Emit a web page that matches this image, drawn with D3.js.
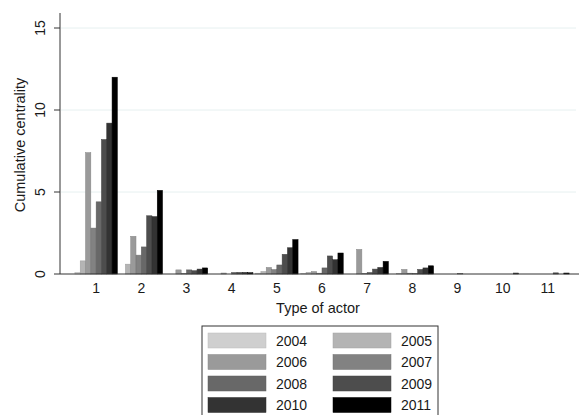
<!DOCTYPE html>
<html>
<head>
<meta charset="utf-8">
<script src="https://cdn.jsdelivr.net/npm/d3@7"></script>
<style>
  body { margin: 0; background: #fff; }
  text { font-family: "Liberation Sans", Arial, Helvetica, sans-serif; fill: #1a1a1a; }
</style>
</head>
<body>
<div id="chart"></div>
<script>
// actor types on the x axis
var categories = ["1","2","3","4","5","6","7","8","9","10","11"];
var years = ["2004","2005","2006","2007","2008","2009","2010","2011"];
var yTicks = [0, 5, 10, 15];

// cumulative centrality per actor type, one array per year
var v2004 = [0.1, 0,    0,    0,    0.05, 0.03, 0,    0,    0,    0,    0];
var v2005 = [0.8, 0.6,  0,    0,    0.15, 0.1,  0,    0.03, 0,    0,    0];
var v2006 = [7.4, 2.3,  0.25, 0.06, 0.4,  0.15, 1.5,  0.28, 0,    0,    0];
var v2007 = [2.8, 1.15, 0.03, 0,    0.27, 0.05, 0.03, 0.05, 0,    0,    0];
var v2008 = [4.4, 1.65, 0.25, 0.1,  0.55, 0.37, 0.1,  0.02, 0.02, 0,    0];
var v2009 = [8.2, 3.55, 0.2,  0.1,  1.2,  1.1,  0.3,  0.28, 0,    0,    0.07];
var v2010 = [9.2, 3.5,  0.3,  0.1,  1.6,  0.87, 0.4,  0.37, 0,    0.06, 0];
var v2011 = [12.0,5.1,  0.37, 0.08, 2.1,  1.28, 0.77, 0.5,  0,    0,    0.06];
var series = [v2004, v2005, v2006, v2007, v2008, v2009, v2010, v2011];

var colors = ["#cfcfcf","#b4b4b4","#9a9a9a","#828282","#686868","#4d4d4d","#333333","#000000"];

var W = 579, H = 415;
var svg = d3.select("#chart").append("svg")
    .attr("width", W)
    .attr("height", H);

var x = d3.scaleBand().domain(categories)
    .range([60, 584]).paddingInner(0.06).paddingOuter(0.33);
var xi = d3.scaleBand().domain(years).range([0, x.bandwidth()]);
var y = d3.scaleLinear().domain([0, 15]).range([274, 28]);
var color = d3.scaleOrdinal().domain(years).range(colors);

// grid lines
svg.append("g").selectAll("line")
    .data(yTicks.filter(function(d){ return d > 0; }))
    .enter().append("line")
    .attr("x1", 61).attr("x2", 576)
    .attr("y1", function(d){ return y(d); })
    .attr("y2", function(d){ return y(d); })
    .style("stroke", "#e6f0f0").style("stroke-width", 1);

// bars
var rows = [];
categories.forEach(function(c, i){
  years.forEach(function(yr, j){
    rows.push({cat: c, year: yr, value: series[j][i]});
  });
});

svg.append("g").selectAll("rect")
    .data(rows.filter(function(d){ return d.value > 0; }))
    .enter().append("rect")
    .attr("x", function(d){ return x(d.cat) + xi(d.year); })
    .attr("width", xi.bandwidth())
    .attr("y", function(d){ return y(d.value); })
    .attr("height", function(d){ return y(0) - y(d.value); })
    .style("fill", function(d){ return color(d.year); })
    .style("stroke", function(d){ return d3.color(color(d.year)).darker(0.4); })
    .style("stroke-width", 0.5);

// y axis
svg.append("line")
    .attr("x1", 60).attr("x2", 60).attr("y1", 13).attr("y2", y(0))
    .style("stroke", "#333").style("stroke-width", 1);
svg.append("g").selectAll("line")
    .data(yTicks).enter().append("line")
    .attr("x1", 54).attr("x2", 60)
    .attr("y1", function(d){ return y(d); })
    .attr("y2", function(d){ return y(d); })
    .style("stroke", "#333");
svg.append("g").selectAll("text")
    .data(yTicks).enter().append("text")
    .attr("transform", function(d){ return "translate(45," + y(d) + ") rotate(-90)"; })
    .style("text-anchor", "middle")
    .style("font-size", "14px")
    .text(function(d){ return d; });
svg.append("text")
    .attr("transform", "translate(25,145) rotate(-90)")
    .style("text-anchor", "middle")
    .style("font-size", "14.5px")
    .text("Cumulative centrality");

// x axis
svg.append("line")
    .attr("x1", 60).attr("x2", 579).attr("y1", y(0)).attr("y2", y(0))
    .style("stroke", "#333");
svg.append("g").selectAll("text")
    .data(categories).enter().append("text")
    .attr("x", function(d){ return x(d) + x.bandwidth() / 2; })
    .attr("y", 293)
    .style("text-anchor", "middle")
    .style("font-size", "14px")
    .text(function(d){ return d; });
svg.append("text")
    .attr("x", 318).attr("y", 313)
    .style("text-anchor", "middle")
    .style("font-size", "14.5px")
    .text("Type of actor");

// legend
var lg = svg.append("g").attr("transform", "translate(202,326)");
lg.append("rect")
    .attr("width", 236).attr("height", 100)
    .style("fill", "#fff").style("stroke", "#333").style("stroke-width", 1);
var item = lg.selectAll("g.item")
    .data(years).enter().append("g")
    .attr("class", "item")
    .attr("transform", function(d, i){
      return "translate(" + (i % 2 ? 131 : 6) + "," + (7 + Math.floor(i / 2) * 21.5) + ")";
    });
item.append("rect")
    .attr("width", 58).attr("height", 15)
    .style("fill", function(d){ return color(d); })
    .style("stroke", function(d){ return d3.color(color(d)).darker(0.3); })
    .style("stroke-width", 0.5);
item.append("text")
    .attr("x", 68).attr("y", 12.5)
    .style("font-size", "14px")
    .text(function(d){ return d; });
</script>
</body>
</html>
